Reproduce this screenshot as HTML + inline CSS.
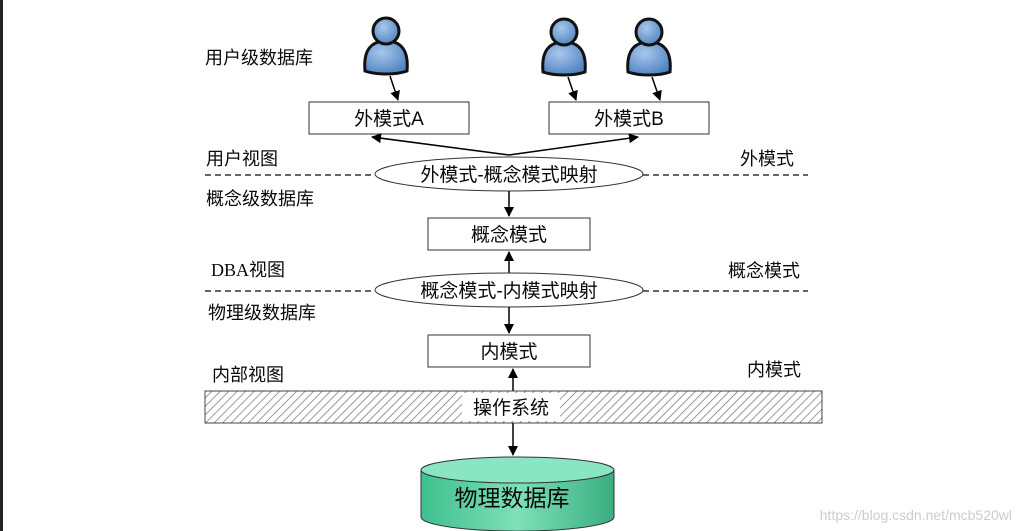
<!DOCTYPE html>
<html><head><meta charset="utf-8"><style>
html,body{margin:0;padding:0;background:#fff;}
svg{display:block;}
text{font-family:"Liberation Sans","Noto Sans CJK SC",sans-serif;fill:#0a0a0a;}
</style></head><body>
<svg width="1024" height="531" viewBox="0 0 1024 531" xmlns="http://www.w3.org/2000/svg">
<defs>
<marker id="ar" markerWidth="10" markerHeight="10" refX="9" refY="5" orient="auto" markerUnits="userSpaceOnUse">
<path d="M0,0 L10,5 L0,10 z" fill="#000"/></marker>
<pattern id="hatch" width="6" height="6" patternUnits="userSpaceOnUse" patternTransform="rotate(45)">
<rect width="6" height="6" fill="#fff"/><line x1="0" y1="0" x2="0" y2="6" stroke="#777" stroke-width="1.5"/></pattern>
<radialGradient id="ug" cx="0.4" cy="0.35" r="0.7"><stop offset="0" stop-color="#a8c8ec"/><stop offset="1" stop-color="#4f82c0"/></radialGradient>
<linearGradient id="cg" x1="0" x2="1"><stop offset="0" stop-color="#3fbf8f"/><stop offset="0.5" stop-color="#7de0b8"/><stop offset="1" stop-color="#3aae80"/></linearGradient>
<g id="user">
<path d="M-21,40 C-23,18 -14,10 0,10 C14,10 23,18 21,40 C10,44 -10,44 -21,40 z" fill="url(#ug)" stroke="#111" stroke-width="3"/>
<circle cx="0" cy="0" r="13" fill="url(#ug)" stroke="#111" stroke-width="3"/>
</g>
</defs>
<rect x="0" y="0" width="3" height="531" fill="#222"/>

<use href="#user" x="386" y="31"/>
<use href="#user" x="564" y="32"/>
<use href="#user" x="649" y="32"/>

<line x1="390" y1="76" x2="398" y2="100" stroke="#000" stroke-width="1.5" marker-end="url(#ar)"/>
<line x1="568" y1="77" x2="576" y2="100" stroke="#000" stroke-width="1.5" marker-end="url(#ar)"/>
<line x1="652" y1="77" x2="660" y2="100" stroke="#000" stroke-width="1.5" marker-end="url(#ar)"/>

<text x="205" y="64" font-size="18">用户级数据库</text>
<rect x="309" y="102" width="160" height="32" fill="#fff" stroke="#333" stroke-width="1"/>
<text x="389" y="125" font-size="19" text-anchor="middle">外模式A</text>
<rect x="549" y="102" width="160" height="32" fill="#fff" stroke="#333" stroke-width="1"/>
<text x="629" y="125" font-size="19" text-anchor="middle">外模式B</text>

<line x1="509" y1="155" x2="372" y2="137" stroke="#000" stroke-width="1.5" marker-end="url(#ar)"/>
<line x1="509" y1="155" x2="638" y2="137" stroke="#000" stroke-width="1.5" marker-end="url(#ar)"/>

<text x="206" y="165" font-size="18">用户视图</text>
<text x="740" y="165" font-size="18">外模式</text>
<line x1="205" y1="175" x2="375" y2="175" stroke="#333" stroke-width="1.5" stroke-dasharray="6,4"/>
<line x1="643" y1="175" x2="808" y2="175" stroke="#333" stroke-width="1.5" stroke-dasharray="6,4"/>
<ellipse cx="509" cy="174" rx="134" ry="17" fill="#fff" stroke="#333" stroke-width="1"/>
<text x="509" y="181" font-size="19" text-anchor="middle">外模式-概念模式映射</text>
<text x="206" y="205" font-size="18">概念级数据库</text>

<line x1="509" y1="191" x2="509" y2="216" stroke="#000" stroke-width="1.5" marker-end="url(#ar)"/>
<rect x="428" y="218" width="162" height="32" fill="#fff" stroke="#333" stroke-width="1"/>
<text x="509" y="241" font-size="19" text-anchor="middle">概念模式</text>

<line x1="509" y1="273" x2="509" y2="252" stroke="#000" stroke-width="1.5" marker-end="url(#ar)"/>
<text x="211" y="276" font-size="18"><tspan style="font-family:'Liberation Serif',serif">DBA</tspan>视图</text>
<text x="728" y="277" font-size="18">概念模式</text>
<line x1="205" y1="291" x2="375" y2="291" stroke="#333" stroke-width="1.5" stroke-dasharray="6,4"/>
<line x1="643" y1="291" x2="808" y2="291" stroke="#333" stroke-width="1.5" stroke-dasharray="6,4"/>
<ellipse cx="509" cy="290" rx="134" ry="17" fill="#fff" stroke="#333" stroke-width="1"/>
<text x="509" y="297" font-size="19" text-anchor="middle">概念模式-内模式映射</text>
<text x="208" y="319" font-size="18">物理级数据库</text>

<line x1="509" y1="307" x2="509" y2="333" stroke="#000" stroke-width="1.5" marker-end="url(#ar)"/>
<rect x="428" y="335" width="162" height="32" fill="#fff" stroke="#333" stroke-width="1"/>
<text x="509" y="358" font-size="19" text-anchor="middle">内模式</text>

<text x="212" y="381" font-size="18">内部视图</text>
<text x="747" y="376" font-size="18">内模式</text>
<line x1="513" y1="391" x2="513" y2="369" stroke="#000" stroke-width="1.5" marker-end="url(#ar)"/>
<rect x="205" y="391" width="617" height="32" fill="url(#hatch)" stroke="#444" stroke-width="1"/>
<rect x="462" y="393" width="98" height="28" fill="#fff"/>
<text x="511" y="414" font-size="19" text-anchor="middle">操作系统</text>

<line x1="513" y1="423" x2="513" y2="455" stroke="#000" stroke-width="1.5" marker-end="url(#ar)"/>
<path d="M421,470 L421,517 A96,14 0 0 0 614,517 L614,470" fill="url(#cg)" stroke="#333" stroke-width="1"/>
<ellipse cx="517.5" cy="470" rx="96.5" ry="13" fill="#8ae6c2" stroke="#333" stroke-width="1"/>
<text x="512" y="506" font-size="23" text-anchor="middle">物理数据库</text>

<text x="1012" y="520" font-size="14" text-anchor="end" style="fill:#ccc">https://blog.csdn.net/mcb520wl</text>
</svg>
</body></html>
